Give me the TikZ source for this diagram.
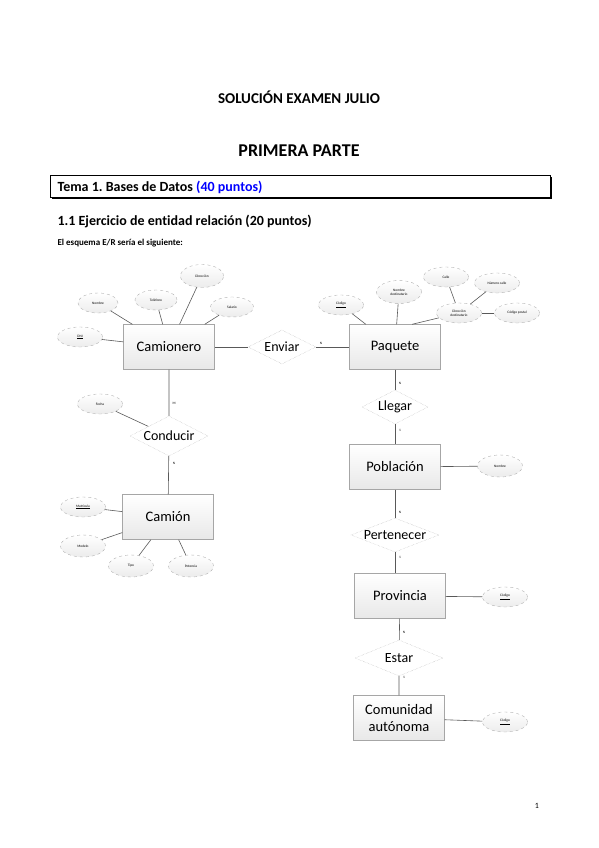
\documentclass[tikz,border=0pt]{standalone}
\usepackage{fontspec}
\setmainfont{Carlito}[Ligatures=NoCommon]
\usetikzlibrary{shapes.geometric}
\frenchspacing
\tikzset{
	entidad/.style={draw=gray!70, top color=white, bottom color=gray!18, minimum width=91pt, minimum height=45pt, inner sep=1pt, align=center, font=\fontsize{14.5}{17}\selectfont},
	relacion/.style={diamond, draw=gray!60, densely dotted, fill=white, inner sep=0pt, minimum height=34pt},
	relnombre/.style={inner sep=0pt, font=\fontsize{14}{16}\selectfont},
	atributo/.style={ellipse, draw=gray!60, dashed, top color=white, bottom color=gray!15, minimum width=45pt, minimum height=20pt, inner sep=0pt, align=center, font=\fontsize{3.5}{4}\selectfont},
	card/.style={inner sep=0pt, font=\fontsize{3.5}{4}\selectfont},
	enlace/.style={draw=black!65, line width=0.6pt}
}
\begin{document}
\begin{tikzpicture}[x=1pt, y=-1pt]
	\useasboundingbox (0,0) rectangle (599,848);
	
	%headings
	\node (titulo) at (299,97) {\fontsize{15}{17}\selectfont\bfseries SOLUCIÓN EXAMEN JULIO};
	\node (parte) at (299,151) {\fontsize{18}{20}\selectfont\bfseries PRIMERA PARTE};
	\fill (52,177) rectangle (552,199);
	\draw[line width=1pt, fill=white] (50,175) rectangle (550,197);
	\node[anchor=west] (tema) at (54,187) {\fontsize{14}{16}\selectfont\bfseries Tema 1. Bases de Datos \textcolor{blue}{(40 puntos)}};
	\node[anchor=west] (ejercicio) at (54,221) {\fontsize{14}{16}\selectfont\bfseries 1.1 Ejercicio de entidad relación (20 puntos)};
	\node[anchor=west] (intro) at (54,243) {\fontsize{9}{10}\selectfont\bfseries El esquema E/R sería el siguiente:};
	\node (pagina) at (537,806) {\fontsize{8}{9}\selectfont 1};
	
	%entities
	\node[entidad] (camionero) at (169,347) {Camionero};
	\node[entidad] (paquete) at (395,347) {Paquete};
	\node[entidad] (camion) at (168,517) {Camión};
	\node[entidad] (poblacion) at (395,467) {Población};
	\node[entidad] (provincia) at (400,596) {Provincia};
	\node[entidad] (comunidad) at (399,718) {Comunidad\\autónoma};
	
	%relationships
	\node[relacion, minimum width=68pt, label={[relnombre]center:Enviar}] (enviar) at (282,347) {};
	\node[relacion, minimum width=78pt, minimum height=40pt, label={[relnombre]center:Conducir}] (conducir) at (169,436) {};
	\node[relacion, minimum width=66pt, label={[relnombre]center:Llegar}] (llegar) at (395,407) {};
	\node[relacion, minimum width=88pt, label={[relnombre]center:Pertenecer}] (pertenecer) at (395,535) {};
	\node[relacion, minimum width=88pt, minimum height=36pt, label={[relnombre]center:Estar}] (estar) at (399,658) {};
	
	%attributes
	\node[atributo] (dni) at (80,337) {\underline{DNI}};
	\node[atributo, minimum width=40pt] (nombre) at (98,303) {Nombre};
	\node[atributo, minimum width=42pt] (telefono) at (156,300) {Teléfono};
	\node[atributo, minimum width=43pt, minimum height=23pt] (direccion) at (202,276) {Dirección};
	\node[atributo, minimum width=43pt] (salario) at (232,307) {Salario};
	\node[atributo] (fecha) at (100,404) {Fecha};
	\node[atributo] (matricula) at (83,507) {\underline{Matrícula}};
	\node[atributo, minimum height=22pt] (modelo) at (83,546) {Modelo};
	\node[atributo, minimum height=22pt] (tipo) at (131,566) {Tipo};
	\node[atributo, minimum height=22pt] (potencia) at (191,566) {Potencia};
	\node[atributo] (codigo) at (341,305) {\underline{Código}};
	\node[atributo, minimum height=23pt] (destinatario) at (399,292) {Nombre\\destinatario};
	\node[atributo] (dirdest) at (459,313) {Dirección\\destinatario};
	\node[atributo] (calle) at (446,277) {Calle};
	\node[atributo] (numero) at (497,283) {Número calle};
	\node[atributo] (postal) at (517,313) {Código postal};
	\node[atributo, minimum height=22pt] (nompob) at (500,466) {Nombre};
	\node[atributo] (codprov) at (505,597) {\underline{Código}};
	\node[atributo] (codcom) at (505,722) {\underline{Código}};
	
	%connectors
	\draw[enlace] (camionero) -- (enviar) -- (paquete);
	\draw[enlace] (camionero) -- (conducir) -- (camion);
	\draw[enlace] (paquete) -- (llegar) -- (poblacion) -- (pertenecer);
	\draw[enlace] (pertenecer.south) -- (pertenecer.south |- provincia.north);
	\draw[enlace] (provincia) -- (estar) -- (comunidad);
	\foreach \a in {dni, nombre, telefono, direccion, salario}{
		\draw[enlace] (\a) -- (camionero);
	}
	\draw[enlace] (fecha) -- (conducir);
	\foreach \a in {matricula, modelo, tipo, potencia}{
		\draw[enlace] (\a) -- (camion);
	}
	\draw[enlace] (codigo) -- (paquete);
	\draw[enlace] (destinatario) -- (paquete);
	\draw[enlace] (dirdest) -- (paquete.53);
	\foreach \a in {calle, numero, postal}{
		\draw[enlace] (\a) -- (dirdest);
	}
	\draw[enlace] (nompob) -- (poblacion);
	\draw[enlace] (codprov) -- (provincia);
	\draw[enlace] (codcom) -- (comunidad);
	
	%cardinalities
	\node[card] (c1) at (321,343) {N};
	\node[card] (c2) at (174,403) {M};
	\node[card] (c3) at (174,463) {N};
	\node[card] (c4) at (400,383) {N};
	\node[card] (c5) at (400,430) {1};
	\node[card] (c6) at (400,512) {N};
	\node[card] (c7) at (400,557) {1};
	\node[card] (c8) at (404,632) {N};
	\node[card] (c9) at (404,677) {1};
\end{tikzpicture}
\end{document}
